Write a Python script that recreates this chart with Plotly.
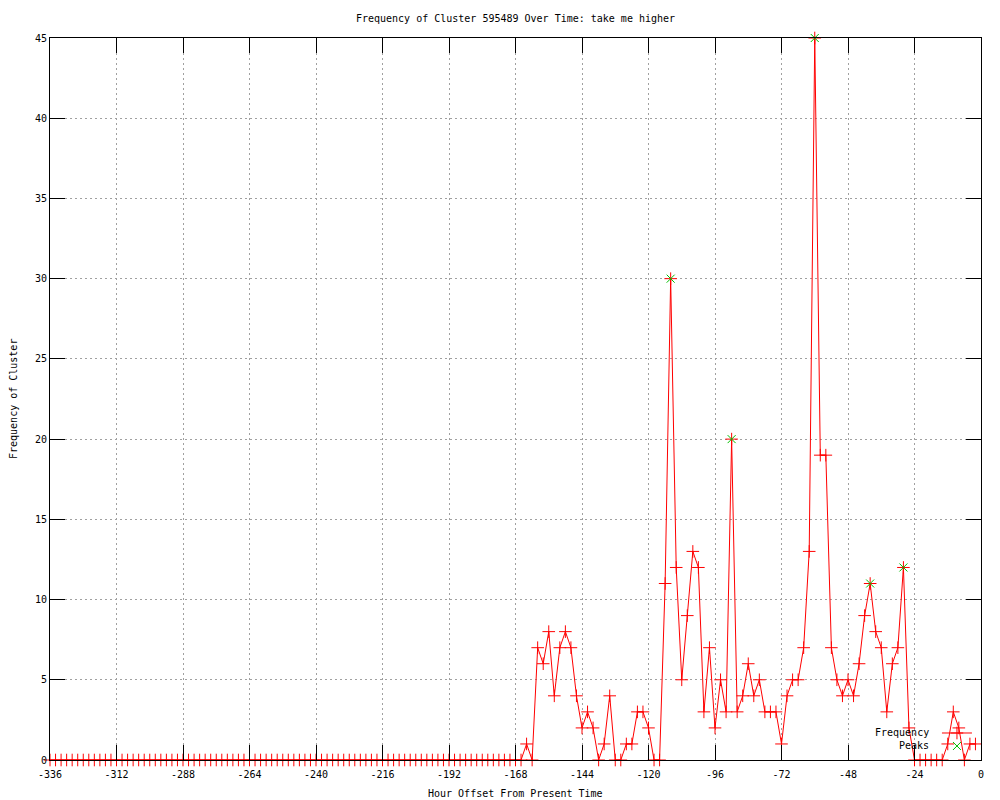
import plotly.graph_objects as go

# Hours (every 2 hours from -336 to -2)
hours = list(range(-336, 0, 2))

frequency = (
    [0] * 86  # -336 .. -166
    + [1, 0, 7, 6, 8, 4, 7, 8, 7, 4,        # -164 .. -146
       2, 3, 2, 0, 1, 4, 0, 0, 1, 1,        # -144 .. -126
       3, 3, 2, 0, 0, 11, 30, 12, 5, 9,     # -124 .. -106
       13, 12, 3, 7, 2, 5, 3, 20, 3, 4,     # -104 .. -86
       6, 4, 5, 3, 3, 3, 1, 4, 5, 5,        # -84 .. -66
       7, 13, 45, 19, 19, 7, 5, 4, 5, 4,    # -64 .. -46
       6, 9, 11, 8, 7, 3, 6, 7, 12, 2,      # -44 .. -26
       0, 0, 0, 0, 0, 0, 1, 3, 2, 0,        # -24 .. -6
       1, 1]                                # -4 .. -2
)

peak_hours = [-112, -90, -60, -40, -28]
peak_values = [30, 20, 45, 11, 12]

series_labels = ["Frequency", "Peaks"]

x_tickvals = [-336, -312, -288, -264, -240, -216, -192, -168, -144, -120, -96, -72, -48, -24, 0]
x_ticktext = ["-336", "-312", "-288", "-264", "-240", "-216", "-192", "-168", "-144",
              "-120", "-96", "-72", "-48", "-24", "0"]
y_tickvals = [0, 5, 10, 15, 20, 25, 30, 35, 40, 45]

FONT = "DejaVu Sans Mono"
RED = "#ff0000"
GREEN = "#00c000"

fig = go.Figure()
# Legend keys are drawn by Plotly; their labels (which gnuplot puts to the left
# of the key) are drawn as annotations below.
fig.add_trace(go.Scatter(
    x=hours, y=frequency, mode="lines+markers", name="",
    line=dict(color=RED, width=1),
    marker=dict(symbol="cross-thin", size=9, line=dict(color=RED, width=1), color=RED),
    cliponaxis=False, legend="legend",
    hovertemplate=series_labels[0] + ": %{y}<extra></extra>",
))
fig.add_trace(go.Scatter(
    x=peak_hours, y=peak_values, mode="markers", name="",
    marker=dict(symbol="x-thin", size=8, line=dict(color=GREEN, width=1), color=GREEN),
    cliponaxis=False, legend="legend2",
    hovertemplate=series_labels[1] + ": %{y}<extra></extra>",
))

axis_common = dict(
    showline=True, linecolor="black", linewidth=1, mirror="ticks",
    ticks="inside", ticklen=15, tickcolor="black", tickwidth=1,
    showgrid=True, gridcolor="#a0a0a0", griddash="2px,3px", gridwidth=1,
    zeroline=False, tickfont=dict(family=FONT, size=10, color="black"),
)

fig.update_xaxes(range=[-336, 0], tickvals=x_tickvals, ticktext=x_ticktext,
                 ticklabelstandoff=5, **axis_common)
fig.update_yaxes(range=[0, 45], tickvals=y_tickvals, **axis_common)

leg_common = dict(xanchor="left", yanchor="middle",
                  bgcolor="rgba(0,0,0,0)", borderwidth=0,
                  font=dict(family=FONT, size=10, color="black"),
                  itemwidth=30)

fig.update_layout(
    width=1000, height=800,
    margin=dict(l=50, r=19, t=38, b=40, autoexpand=False),
    paper_bgcolor="white", plot_bgcolor="white",
    font=dict(family=FONT, size=10, color="black"),
    title=dict(text="Frequency of Cluster 595489 Over Time: take me higher",
               x=0.5, xref="paper", y=1 - 18 / 800, yref="container",
               yanchor="middle", xanchor="center",
               font=dict(family=FONT, size=10, color="black")),
    showlegend=True,
    legend=dict(x=0.9527, y=0.0374, **leg_common),
    legend2=dict(x=0.9527, y=0.0194, **leg_common),
    annotations=[
        dict(text="Hour Offset From Present Time", xref="paper", yref="paper",
             x=0.5, y=0, yshift=-33, showarrow=False, xanchor="center", yanchor="middle",
             font=dict(family=FONT, size=10, color="black")),
        dict(text="Frequency of Cluster", xref="paper", yref="paper",
             x=0, y=0.5, xshift=-37, showarrow=False, textangle=-90,
             xanchor="center", yanchor="middle",
             font=dict(family=FONT, size=10, color="black")),
        dict(text=series_labels[0], xref="paper", yref="paper",
             x=(931 - 50) / 931, y=0.0374, showarrow=False,
             xanchor="right", yanchor="middle",
             font=dict(family=FONT, size=10, color="black")),
        dict(text=series_labels[1], xref="paper", yref="paper",
             x=(931 - 50) / 931, y=0.0194, showarrow=False,
             xanchor="right", yanchor="middle",
             font=dict(family=FONT, size=10, color="black")),
    ],
)

fig.write_html("out.html", config={"displayModeBar": False},
               post_script="document.body.style.margin='0px';")
